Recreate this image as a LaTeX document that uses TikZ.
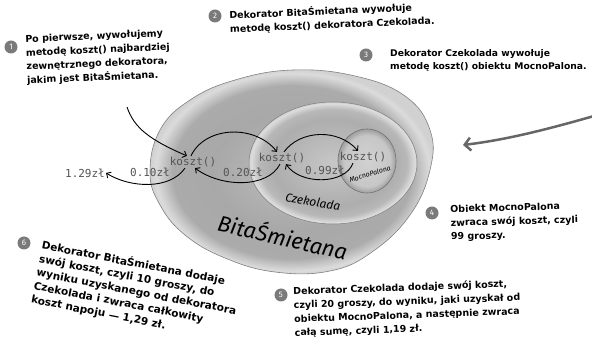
\documentclass[tikz,border=0pt]{standalone}
\usepackage{fontspec}
\setmainfont{Fira Sans}
\newfontfamily\monof{DejaVu Sans Mono}
\newfontfamily\notef{DejaVu Sans}
\usetikzlibrary{arrows.meta}
\definecolor{markgray}{HTML}{7A7A7A}
\definecolor{codegray}{HTML}{555555}
\definecolor{biggray}{HTML}{666666}
\pgfdeclareradialshading{outershade}{\pgfpoint{0bp}{0bp}}{rgb(0bp)=(0.74,0.74,0.74); rgb(14bp)=(0.66,0.66,0.66); rgb(21bp)=(0.67,0.67,0.67); rgb(24bp)=(0.86,0.86,0.86); rgb(25bp)=(0.82,0.82,0.82); rgb(50bp)=(0.82,0.82,0.82)}
\pgfdeclareradialshading{midshade}{\pgfpoint{0bp}{0bp}}{rgb(0bp)=(0.78,0.78,0.78); rgb(18bp)=(0.68,0.68,0.68); rgb(22bp)=(0.72,0.72,0.72); rgb(24.5bp)=(0.87,0.87,0.87); rgb(25bp)=(0.80,0.80,0.80); rgb(50bp)=(0.80,0.80,0.80)}
\pgfdeclareradialshading{innershade}{\pgfpoint{0bp}{0bp}}{rgb(0bp)=(0.82,0.82,0.82); rgb(20bp)=(0.78,0.78,0.78); rgb(25bp)=(0.62,0.62,0.62); rgb(50bp)=(0.62,0.62,0.62)}
\tikzset{
  marker/.style={circle, fill=markgray, text=white, inner sep=0pt, minimum size=13pt, font=\fontsize{8}{8}\selectfont},
  note/.style={anchor=north west, align=left, inner sep=0pt, font=\notef\bfseries\fontsize{9.5}{13.8}\selectfont},
  code/.style={inner sep=1pt, text=codegray, font=\monof\fontsize{11}{11}\selectfont},
  hand/.style={inner sep=0pt, font=\itshape},
  flow/.style={line width=0.9pt, -{Straight Barb[length=3.5pt,width=7pt]}},
}
\begin{document}
\begin{tikzpicture}[x=1pt,y=-1pt]
\useasboundingbox (0,0) rectangle (592,344);
% shapes
\shade[shading=outershade] plot[smooth cycle, tension=0.7] coordinates {(150,172) (160,130) (190,100) (235,80) (293,70) (355,76) (405,96) (430,130) (430,170) (410,215) (372,252) (330,271) (275,272) (225,258) (185,235) (160,205)};
\draw[gray, line width=0.6pt] plot[smooth cycle, tension=0.7] coordinates {(150,172) (160,130) (190,100) (235,80) (293,70) (355,76) (405,96) (430,130) (430,170) (410,215) (372,252) (330,271) (275,272) (225,258) (185,235) (160,205)};
\shade[shading=midshade, draw=gray, line width=0.5pt] (333,163) ellipse [x radius=84pt, y radius=61pt];
\shade[shading=innershade, draw=gray!90!black, line width=0.6pt] (367,161) ellipse [x radius=29pt, y radius=32pt];
% handwritten labels
\node[hand, rotate=-10, font=\itshape\fontsize{12}{12}\selectfont] (lczek) at (313,202) {Czekolada};
\node[hand, rotate=17, font=\itshape\fontsize{7}{7}\selectfont] (lmocno) at (370,174) {MocnoPalona};
\node[hand, rotate=-13, font=\itshape\fontsize{22}{22}\selectfont] (lbita) at (283,236) {BitaŚmietana};
% code labels
\node[code] (k1) at (193,162) {koszt()};
\node[code] (k2) at (282,158) {koszt()};
\node[code] (k3) at (363,157) {koszt()};
\node[code] (p0) at (85,173) {1.29zł};
\node[code] (p1) at (150,172) {0.10zł};
\node[code] (p2) at (243,172) {0.20zł};
\node[code] (p3) at (325,170) {0.99zł};
% arrows
\coordinate (s0) at (127,107);
\draw[flow] (s0) .. controls (134,128) and (150,140) .. ([xshift=-6pt]k1.north);
\draw[flow] ([xshift=-2pt]k1.north) .. controls (205,126) and (255,124) .. ([xshift=-5pt]k2.north);
\draw[flow] ([xshift=2pt]k2.north) .. controls (300,130) and (338,128) .. ([xshift=-5pt]k3.north);
\draw[flow] ([xshift=-10pt]k3.south) .. controls (345,185) and (300,185) .. ([xshift=4pt]k2.south);
\draw[flow] ([xshift=-2pt]k2.south) .. controls (268,188) and (222,188) .. ([xshift=2pt]k1.south);
\draw[flow] ([xshift=-8pt]k1.south) .. controls (170,190) and (130,188) .. (p0.east);
% big gray arrow
\coordinate (g1) at (594,116);
\coordinate (g2) at (463,145);
\draw[biggray, line width=2.5pt, line cap=round, -{Straight Barb[length=6pt,width=13pt]}] (g1) .. controls (545,130) and (505,140) .. (g2);
% markers
\node[marker] (m1) at (11,47) {1};
\node[marker] (m2) at (215,16) {2};
\node[marker] (m3) at (366,55) {3};
\node[marker] (m4) at (432,213) {4};
\node[marker] (m5) at (281,295) {5};
\node[marker] (m6) at (24,243) {6};
% notes
\node[note, rotate=2.5] (t1) at (25,35) {Po pierwsze, wywołujemy\\metodę koszt() najbardziej\\zewnętrznego dekoratora,\\jakim jest BitaŚmietana.};
\node[note, rotate=2.5] (t2) at (229,10) {Dekorator BitaŚmietana wywołuje\\metodę koszt() dekoratora Czekolada.};
\node[note, font=\notef\bfseries\fontsize{9.2}{13.8}\selectfont] (t3) at (390,49) {Dekorator Czekolada wywołuje\\metodę koszt() obiektu MocnoPalona.};
\node[note, rotate=1.5] (t4) at (450,205) {Obiekt MocnoPalona\\zwraca swój koszt, czyli\\99 groszy.};
\node[note, rotate=2] (t5) at (293,287) {Dekorator Czekolada dodaje swój koszt,\\czyli 20 groszy, do wyniku, jaki uzyskał od\\obiektu MocnoPalona, a następnie zwraca\\całą sumę, czyli 1,19 zł.};
\node[note, rotate=-11, font=\notef\bfseries\fontsize{10.5}{13.8}\selectfont] (t6) at (43,239) {Dekorator BitaŚmietana dodaje\\swój koszt, czyli 10 groszy, do\\wyniku uzyskanego od dekoratora\\Czekolada i zwraca całkowity\\koszt napoju — 1,29 zł.};
\end{tikzpicture}
\end{document}
